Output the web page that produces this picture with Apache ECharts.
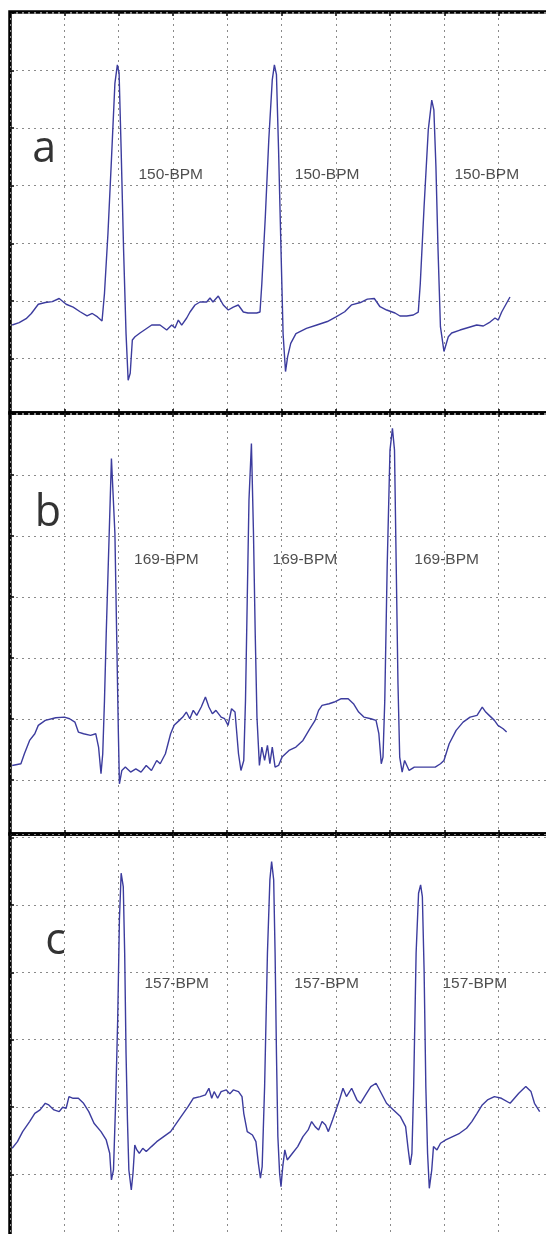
<!DOCTYPE html>
<html>
<head>
<meta charset="utf-8">
<script src="https://cdn.jsdelivr.net/npm/echarts@6/dist/echarts.min.js"></script>
<style>
html,body{margin:0;padding:0;background:#fff;}
#chart{width:546px;height:1234px;}
</style>
</head>
<body>
<div id="chart"></div>
<script>
// ---- data (time and amplitude in grid divisions) ----
const panelLetters = ['a', 'b', 'c'];
const bpmText = ['150-BPM', '169-BPM', '157-BPM'];

const aTime = [0.04,0.169,0.297,0.393,0.521,0.650,0.778,0.906,1.034,1.163,1.291,1.419,1.515,1.612,1.695,1.740,1.804,1.868,1.932,1.977,2.009,2.047,2.092,2.137,2.176,2.214,2.253,2.302,2.394,2.610,2.762,2.886,2.978,3.039,3.100,3.162,3.254,3.315,3.407,3.499,3.622,3.683,3.738,3.836,3.928,4.020,4.112,4.204,4.297,4.383,4.543,4.604,4.638,4.702,4.766,4.830,4.869,4.907,4.946,4.991,5.029,5.074,5.113,5.170,5.266,5.459,5.651,5.844,6.004,6.164,6.292,6.453,6.581,6.709,6.814,6.937,7.090,7.182,7.306,7.427,7.519,7.556,7.626,7.703,7.767,7.806,7.844,7.883,7.927,7.992,8.072,8.134,8.287,8.411,8.595,8.716,8.840,8.932,8.993,9.055,9.208];
const aValue = [0.58,0.62,0.69,0.78,0.94,0.97,0.985,1.04,0.94,0.89,0.81,0.74,0.78,0.72,0.65,1.13,2.17,3.45,4.78,5.10,4.96,3.62,1.88,0.43,-0.38,-0.26,0.32,0.376,0.44,0.579,0.579,0.492,0.579,0.527,0.666,0.579,0.701,0.805,0.927,0.979,0.979,1.049,0.979,1.083,0.927,0.840,0.892,0.927,0.805,0.788,0.788,0.805,1.30,2.46,3.80,4.84,5.10,4.93,3.62,1.88,0.43,-0.23,0.03,0.26,0.43,0.52,0.58,0.64,0.72,0.81,0.93,0.97,1.03,1.04,0.897,0.840,0.788,0.736,0.736,0.753,0.805,1.30,2.64,3.97,4.49,4.32,3.33,1.88,0.55,0.12,0.376,0.44,0.492,0.527,0.579,0.562,0.631,0.701,0.666,0.805,1.066];

const bTime = [0.040,0.201,0.265,0.361,0.457,0.521,0.650,0.842,1.002,1.098,1.195,1.259,1.355,1.483,1.579,1.631,1.676,1.708,1.740,1.772,1.868,1.932,1.964,1.996,2.015,2.060,2.124,2.221,2.317,2.413,2.509,2.605,2.702,2.766,2.862,2.958,3.022,3.118,3.182,3.247,3.311,3.375,3.439,3.522,3.599,3.663,3.727,3.792,3.888,3.952,4.016,4.080,4.144,4.208,4.253,4.305,4.337,4.369,4.401,4.446,4.484,4.516,4.548,4.593,4.638,4.689,4.741,4.786,4.830,4.882,4.946,5.010,5.138,5.266,5.395,5.523,5.619,5.683,5.747,5.876,5.972,6.100,6.228,6.325,6.421,6.517,6.645,6.741,6.793,6.837,6.869,6.902,6.946,6.998,7.043,7.081,7.113,7.145,7.177,7.222,7.267,7.350,7.446,7.639,7.831,7.928,7.992,8.088,8.216,8.344,8.473,8.601,8.697,8.761,8.825,8.921,8.986,9.082,9.146];
const bValue = [0.235,0.263,0.427,0.646,0.756,0.893,0.975,1.018,1.029,1.002,0.947,0.783,0.756,0.728,0.756,0.537,0.098,0.427,1.303,2.398,5.274,4.041,2.398,0.756,-0.066,0.153,0.208,0.126,0.180,0.126,0.235,0.153,0.317,0.263,0.427,0.756,0.893,0.975,1.029,1.112,1.002,1.139,1.057,1.194,1.358,1.194,1.084,1.139,1.029,1.002,0.893,1.166,1.112,0.427,0.153,0.317,1.303,2.946,4.589,5.520,4.041,2.398,1.029,0.235,0.537,0.317,0.564,0.263,0.537,0.208,0.235,0.372,0.482,0.537,0.646,0.838,0.975,1.139,1.221,1.248,1.276,1.331,1.331,1.248,1.112,1.029,1.002,0.975,0.756,0.263,0.372,1.303,3.494,5.411,5.767,5.411,3.494,1.577,0.372,0.126,0.317,0.153,0.208,0.208,0.208,0.263,0.317,0.591,0.810,0.947,1.029,1.057,1.194,1.112,1.057,0.975,0.893,0.838,0.783];

const cTime = [0.040,0.137,0.233,0.361,0.457,0.553,0.650,0.714,0.810,0.906,0.970,1.034,1.086,1.163,1.259,1.355,1.451,1.547,1.676,1.772,1.836,1.868,1.906,1.945,1.983,2.015,2.047,2.086,2.112,2.137,2.163,2.189,2.234,2.265,2.298,2.336,2.381,2.445,2.509,2.605,2.702,2.830,2.958,3.022,3.150,3.279,3.375,3.503,3.599,3.663,3.715,3.760,3.824,3.888,3.984,4.048,4.112,4.208,4.273,4.305,4.369,4.465,4.529,4.574,4.612,4.644,4.689,4.741,4.786,4.818,4.856,4.882,4.907,4.933,4.965,4.991,5.023,5.061,5.106,5.138,5.202,5.298,5.395,5.491,5.555,5.619,5.683,5.747,5.811,5.863,5.940,6.004,6.068,6.132,6.196,6.292,6.389,6.453,6.549,6.645,6.741,6.838,6.934,7.062,7.190,7.286,7.331,7.370,7.402,7.434,7.479,7.524,7.562,7.594,7.626,7.658,7.690,7.722,7.767,7.799,7.863,7.928,8.024,8.152,8.280,8.408,8.505,8.601,8.697,8.793,8.921,9.050,9.210,9.370,9.499,9.595,9.659,9.755];
const cValue = [1.386,1.485,1.634,1.783,1.906,1.956,2.055,2.030,1.956,1.931,1.996,1.981,2.154,2.129,2.129,2.055,1.931,1.758,1.634,1.510,1.312,0.916,1.064,2.055,3.293,4.779,5.473,5.274,4.284,2.798,1.807,1.064,0.767,1.015,1.436,1.362,1.312,1.386,1.337,1.411,1.485,1.560,1.634,1.708,1.857,2.005,2.129,2.154,2.179,2.278,2.129,2.228,2.129,2.228,2.253,2.194,2.253,2.228,2.154,1.906,1.634,1.584,1.485,1.163,0.941,1.114,2.303,4.284,5.373,5.646,5.373,4.284,2.798,1.560,1.015,0.817,1.114,1.362,1.213,1.188,1.312,1.411,1.560,1.659,1.783,1.708,1.659,1.783,1.733,1.634,1.807,1.956,2.105,2.278,2.154,2.278,2.105,2.055,2.179,2.303,2.352,2.204,2.055,1.956,1.857,1.708,1.386,1.139,1.312,2.303,4.284,5.175,5.299,5.126,4.036,2.303,1.312,0.792,1.064,1.411,1.362,1.461,1.510,1.560,1.609,1.684,1.783,1.906,2.030,2.105,2.154,2.129,2.055,2.204,2.303,2.228,2.055,1.931];

// annotation anchors (data units): [time, amplitude]
const letterAnchor = [[0.63, 3.62], [0.70, 4.36], [0.84, 4.45]];
const bpmAnchorTime = [[2.96, 5.84, 8.78], [2.88, 5.43, 8.04], [3.07, 5.83, 8.56]];
const bpmAnchorValue = [3.19, 3.61, 3.83];

// axis ranges per panel
const yMin = [-0.95, -0.89, 0];
const yMax = [6.02, 6.02, 6.055];
const xMin = 0, xMax = 10;

// ---- layout (pixels) ----
const gridBoxes = [
  {left: 10, width: 543, top: 12, height: 401},
  {left: 10, width: 543, top: 413, height: 421},
  {left: 10, width: 543, top: 834, height: 407.6}
];

const times = [aTime, bTime, cTime];
const values = [aValue, bValue, cValue];

const gridLineStyle = {color: '#8a8a8a', width: 1, type: [2, 4]};
const tickStyle = {color: '#000', width: 1.5};
const grids = [], xAxes = [], yAxes = [], series = [];

gridBoxes.forEach((g, i) => {
  grids.push(Object.assign({show: true, borderColor: '#000', borderWidth: 3.5,
    backgroundColor: 'transparent', containLabel: false, outerBoundsMode: 'none'}, g));
  xAxes.push({
    type: 'value', gridIndex: i, position: 'bottom', min: xMin, max: xMax, interval: 1,
    axisLine: {show: false, onZero: false}, axisLabel: {show: false},
    axisTick: {show: true, inside: true, length: 4, lineStyle: tickStyle},
    splitLine: {show: true, lineStyle: gridLineStyle}
  });
  xAxes.push({
    type: 'value', gridIndex: i, position: 'top', min: xMin, max: xMax, interval: 1,
    axisLine: {show: false, onZero: false}, axisLabel: {show: false},
    axisTick: {show: true, inside: true, length: 4, lineStyle: tickStyle},
    splitLine: {show: false}
  });
  yAxes.push({
    type: 'value', gridIndex: i, position: 'left', min: yMin[i], max: yMax[i], splitNumber: 7,
    axisLine: {show: false, onZero: false}, axisLabel: {show: false},
    axisTick: {show: true, inside: true, length: 4, lineStyle: tickStyle},
    splitLine: {show: true, lineStyle: gridLineStyle}
  });

  const pts = times[i].map((t, k) => [t, values[i][k]]);
  series.push({
    type: 'line', xAxisIndex: i * 2, yAxisIndex: i, data: pts,
    showSymbol: false, symbol: 'none', smooth: false, silent: true, clip: true,
    lineStyle: {color: '#3c3c9e', width: 1.4}, z: 5
  });

  series.push({
    type: 'scatter', xAxisIndex: i * 2, yAxisIndex: i, symbolSize: 0, silent: true, z: 6,
    data: bpmAnchorTime[i].map(t => ({value: [t, bpmAnchorValue[i]], name: bpmText[i]})),
    label: {show: true, position: 'inside', formatter: '{b}', color: '#222', fontSize: 15.5,
            fontFamily: 'Liberation Sans, Arial, sans-serif'}
  });

  series.push({
    type: 'scatter', xAxisIndex: i * 2, yAxisIndex: i, symbolSize: 0, silent: true, z: 6,
    data: [{value: letterAnchor[i], name: panelLetters[i]}],
    label: {show: true, position: 'inside', formatter: '{b}', color: '#000', fontSize: 43,
            fontFamily: 'Open Sans, Noto Sans, sans-serif'}
  });
});

const chart = echarts.init(document.getElementById('chart'), null, {renderer: 'canvas'});
chart.setOption({
  backgroundColor: '#fff',
  animation: false,
  grid: grids,
  xAxis: xAxes,
  yAxis: yAxes,
  series: series
});
</script>
</body>
</html>
